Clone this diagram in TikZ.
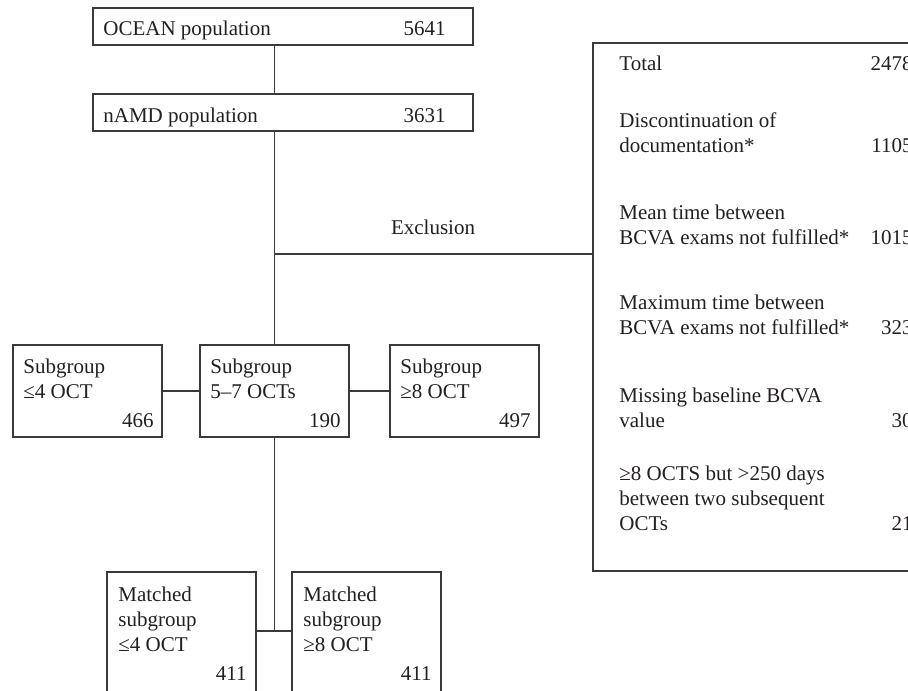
\documentclass[tikz,border=0pt]{standalone}
\usepackage{fontspec}
\setmainfont{Liberation Serif}
\usetikzlibrary{positioning}

\definecolor{inkc}{HTML}{231F20}
\definecolor{linec}{HTML}{3A3A3A}

\tikzset{
  box/.style={draw=linec,line width=0.75pt,inner sep=0pt},
  txt/.style={text=inkc,inner sep=0pt,align=left,font=\fontsize{10.5}{12.5}\selectfont},
  link/.style={draw=linec,line width=0.75pt}
}

\begin{document}
\begin{tikzpicture}[x=0.5pt,y=-0.5pt]
\useasboundingbox (0,0) rectangle (908,690);
\clip (0,0) rectangle (908,690);

% population boxes
\node[box,minimum width=190pt,minimum height=18.5pt] (ocean) at (283,26.5) {};
\node[box,minimum width=190pt,minimum height=18.5pt] (namd) at (283,112.5) {};
\node[txt,anchor=base west] (oceanL) at (103,36) {OCEAN population};
\node[txt,anchor=base east] (oceanN) at (446,36) {5641};
\node[txt,anchor=base west] (namdL) at (103,122) {nAMD population};
\node[txt,anchor=base east] (namdN) at (446,122) {3631};

% subgroups (multi-line texts: base = last line)
\node[box,minimum width=74.5pt,minimum height=46pt] (sub1) at (87.5,391) {};
\node[box,minimum width=74.5pt,minimum height=46pt] (sub2) at (274.5,391) {};
\node[box,minimum width=74.5pt,minimum height=46pt] (sub3) at (464.5,391) {};
\node[txt,anchor=base west] (sub1L) at (23,398) {Subgroup\\≤4 OCT};
\node[txt,anchor=base east] (sub1N) at (154,427) {466};
\node[txt,anchor=base west] (sub2L) at (210,398) {Subgroup\\5–7 OCTs};
\node[txt,anchor=base east] (sub2N) at (341,427) {190};
\node[txt,anchor=base west] (sub3L) at (400,398) {Subgroup\\≥8 OCT};
\node[txt,anchor=base east] (sub3N) at (531,427) {497};

% matched subgroups
\node[box,minimum width=74.5pt,minimum height=94pt] (match1) at (181.5,666) {};
\node[box,minimum width=74.5pt,minimum height=94pt] (match2) at (366.5,666) {};
\node[txt,anchor=base west] (match1L) at (118,651) {Matched\\subgroup\\≤4 OCT};
\node[txt,anchor=base east] (match1N) at (247,680) {411};
\node[txt,anchor=base west] (match2L) at (303,651) {Matched\\subgroup\\≥8 OCT};
\node[txt,anchor=base east] (match2N) at (432,680) {411};

% exclusion box
\node[box,minimum width=183.5pt,minimum height=264pt] (excl) at (776.5,307) {};
\node[txt,anchor=base west] (exTot) at (619,70) {Total};
\node[txt,anchor=base east] (exTotN) at (913,70) {2478};
\node[txt,anchor=base west] (exDoc) at (619,152) {Discontinuation of\\documentation*};
\node[txt,anchor=base east] (exDocN) at (913,152) {1105};
\node[txt,anchor=base west] (exMean) at (619,244) {Mean time between\\BCVA exams not fulfilled*};
\node[txt,anchor=base east] (exMeanN) at (913,244) {1015};
\node[txt,anchor=base west] (exMax) at (619,334) {Maximum time between\\BCVA exams not fulfilled*};
\node[txt,anchor=base east] (exMaxN) at (913,334) {323};
\node[txt,anchor=base west] (exMiss) at (619,427) {Missing baseline BCVA\\value};
\node[txt,anchor=base east] (exMissN) at (913,427) {30};
\node[txt,anchor=base west] (exOct) at (619,530) {≥8 OCTS but >250 days\\between two subsequent\\OCTs};
\node[txt,anchor=base east] (exOctN) at (913,530) {21};

% connectors
\coordinate (exj) at (sub2.north |- 0,254);
\coordinate (mj) at (sub2.south |- 0,631);
\draw[link] (ocean.south -| sub2.north) -- (namd.north -| sub2.north);
\draw[link] (namd.south -| sub2.north) -- (sub2.north);
\draw[link] (exj) -- (exj -| excl.west);
\node[txt,anchor=base] (exLbl) at (433,234) {Exclusion};
\draw[link] (sub1.east) -- (sub2.west);
\draw[link] (sub2.east) -- (sub3.west);
\draw[link] (sub2.south) -- (mj);
\draw[link] (match1.east |- mj) -- (match2.west |- mj);

\end{tikzpicture}
\end{document}
